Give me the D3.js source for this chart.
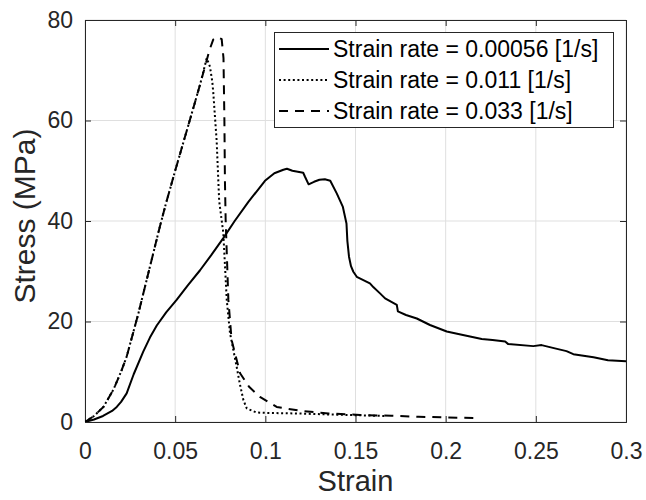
<!DOCTYPE html>
<html>
<head>
<meta charset="utf-8">
<script src="https://cdn.jsdelivr.net/npm/d3@7"></script>
<style>
  html, body { margin: 0; padding: 0; background: #ffffff; }
  svg { display: block; font-family: "Liberation Sans", Arial, Helvetica, sans-serif; }
</style>
</head>
<body>
<svg id="chart" width="646" height="500"></svg>
<script>
// ---- data (strain, stress MPa) ----
const seriesNames = [
  "Strain rate = 0.00056 [1/s]",
  "Strain rate = 0.011 [1/s]",
  "Strain rate = 0.033 [1/s]"
];
const strainSlow = [0,0.005,0.01,0.015,0.0176,0.02,0.0231,0.027,0.0323,0.036,0.0398,0.045,0.0508,0.057,0.0638,0.07,0.0767,0.083,0.0906,0.0998,0.105,0.11,0.112,0.115,0.118,0.121,0.122,0.124,0.127,0.13,0.133,0.136,0.1396,0.143,0.145,0.1455,0.1464,0.1475,0.1488,0.1507,0.158,0.16,0.1636,0.1664,0.1729,0.1735,0.178,0.184,0.1913,0.2006,0.207,0.2135,0.22,0.226,0.233,0.2347,0.2486,0.2532,0.26,0.267,0.2708,0.282,0.29,0.3];
const stressSlow = [0,0.5,1.2,2.2,3.0,4.0,5.7,9.5,14.0,16.8,19.2,21.8,24.3,27.2,30.2,33.2,36.6,40,43.8,48.0,49.5,50.2,50.4,50.0,49.8,49.6,48.8,47.3,47.8,48.2,48.3,48.0,45.5,42.8,39.5,36,32.9,31,29.9,28.9,27.6,26.8,25.6,24.6,23.3,22.0,21.3,20.6,19.3,18.0,17.5,17.0,16.5,16.3,16.0,15.5,15.1,15.3,14.7,14.1,13.5,12.9,12.3,12.1];

const strainMid = [0,0.005,0.0102,0.0157,0.02,0.0231,0.0296,0.036,0.0416,0.0449,0.05,0.055,0.06,0.064,0.0675,0.0693,0.0706,0.0711,0.073,0.0744,0.0767,0.0786,0.0804,0.0841,0.0858,0.0878,0.0897,0.095,0.1008,0.117,0.145,0.166];
const stressMid = [0,1.2,3.0,6.4,10,13.0,21.6,30.9,39.0,43.5,50.0,56.2,62.4,67.4,72.4,70.7,67.7,65.7,56,44,37.6,24.3,17.7,11.0,7.7,4.4,2.7,1.9,1.8,1.7,1.4,1.2];

const strainFast = [0,0.005,0.0102,0.0157,0.02,0.0231,0.0296,0.036,0.0416,0.0449,0.05,0.055,0.06,0.064,0.0672,0.069,0.0711,0.0735,0.0758,0.0768,0.0773,0.0776,0.078,0.0795,0.0813,0.086,0.091,0.097,0.1063,0.119,0.135,0.1525,0.17,0.185,0.2,0.218];
const stressFast = [0,1.2,3.0,6.4,10,13.0,21.6,30.9,39.0,43.5,50.0,56.2,62.4,67.4,71.6,74.0,76.1,76.6,76.2,72.4,60,48,40.2,24.3,16.3,9.7,7.0,5.0,3.0,2.25,1.7,1.4,1.25,1.05,0.9,0.8];

const xTicks = [0,0.05,0.1,0.15,0.2,0.25,0.3];
const yTicks = [0,20,40,60,80];
const xLabel = "Strain";
const yLabel = "Stress (MPa)";

// ---- layout ----
const svg = d3.select("#chart");
const L = 85, T = 20, R = 626, B = 422;
const x = d3.scaleLinear().domain([0,0.3]).range([L,R]);
const y = d3.scaleLinear().domain([0,80]).range([B,T]);
const ink = "#262626";

// grid
const g = svg.append("g");
g.selectAll("line.gx").data(xTicks).join("line")
  .attr("x1", d=>x(d)).attr("x2", d=>x(d)).attr("y1", T).attr("y2", B)
  .attr("stroke", "#dfdfdf").attr("stroke-width", 1);
g.selectAll("line.gy").data(yTicks).join("line")
  .attr("y1", d=>y(d)).attr("y2", d=>y(d)).attr("x1", L).attr("x2", R)
  .attr("stroke", "#dfdfdf").attr("stroke-width", 1);

// axes (ticks inward)
const fmtX = d => String(+d.toFixed(2));
const axB = svg.append("g").attr("transform", `translate(0,${B})`)
  .call(d3.axisBottom(x).tickValues(xTicks).tickSize(-6).tickPadding(21).tickFormat(fmtX));
const axT = svg.append("g").attr("transform", `translate(0,${T})`)
  .call(d3.axisTop(x).tickValues(xTicks).tickSize(-6).tickFormat(""));
const axLf = svg.append("g").attr("transform", `translate(${L},0)`)
  .call(d3.axisLeft(y).tickValues(yTicks).tickSize(-6).tickPadding(12));
const axRt = svg.append("g").attr("transform", `translate(${R},0)`)
  .call(d3.axisRight(y).tickValues(yTicks).tickSize(-6).tickFormat(""));
[axB, axT, axLf, axRt].forEach(a => {
  a.select(".domain").attr("stroke", ink).attr("stroke-width", 1);
  a.selectAll(".tick line").attr("stroke", ink).attr("stroke-width", 1);
  a.selectAll(".tick text").attr("fill", ink).style("font-size", "23px")
    .style("font-family", '"Liberation Sans", Arial, sans-serif');
});

// axis labels
svg.append("text").attr("x", (L+R)/2).attr("y", 491).attr("text-anchor", "middle")
  .attr("fill", ink).style("font-size", "29px").text(xLabel);
svg.append("text").attr("transform", `translate(35,${(T+B)/2 - 5}) rotate(-90)`)
  .attr("text-anchor", "middle").attr("fill", ink).style("font-size", "30px").text(yLabel);

// lines
svg.append("clipPath").attr("id", "clip").append("rect")
  .attr("x", L).attr("y", T).attr("width", R-L).attr("height", B-T);
const line = d3.line().x(d=>x(d[0])).y(d=>y(d[1]));
const series = [
  { xs: strainSlow, ys: stressSlow, dash: null },
  { xs: strainMid,  ys: stressMid,  dash: "2,2.6" },
  { xs: strainFast, ys: stressFast, dash: "9,7" }
];
const pl = svg.append("g").attr("clip-path", "url(#clip)");
series.forEach(s => {
  const pts = s.xs.map((v,i)=>[v, s.ys[i]]);
  pl.append("path").datum(pts).attr("d", line)
    .attr("fill", "none").attr("stroke", "#000").attr("stroke-width", 2)
    .attr("stroke-linejoin", "round")
    .attr("stroke-dasharray", s.dash);
});

// legend
const lg = svg.append("g");
lg.append("rect").attr("x", 274.5).attr("y", 32.5).attr("width", 339).attr("height", 95)
  .attr("fill", "#fff").attr("stroke", ink).attr("stroke-width", 1);
series.forEach((s, i) => {
  const yy = 49 + i*31;
  lg.append("line").attr("x1", 279).attr("x2", 329).attr("y1", yy).attr("y2", yy)
    .attr("stroke", "#000").attr("stroke-width", 2).attr("stroke-dasharray", s.dash);
  lg.append("text").attr("x", 333).attr("y", yy).attr("dy", "0.35em")
    .attr("fill", "#000").style("font-size", "23px").text(seriesNames[i]);
});
</script>
</body>
</html>
